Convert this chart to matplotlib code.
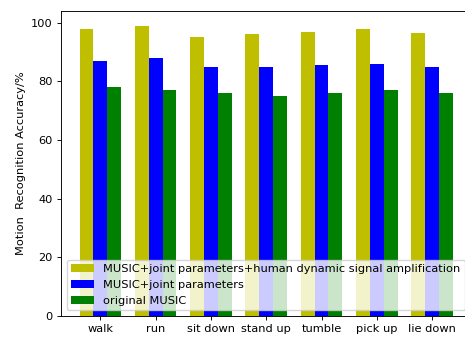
import matplotlib
matplotlib.use('Agg')
import matplotlib.pyplot as plt
import numpy as np

# Recognition accuracy (%) per motion, for the three methods
motions = ['walk', 'run', 'sit down', 'stand up', 'tumble', 'pick up', 'lie down']
acc_amplified = [98, 99, 95, 96, 97, 98, 96.5]
acc_joint = [87, 88, 85, 85, 85.5, 86, 85]
acc_original = [78, 77, 76, 75, 76, 77, 76]

series_labels = ['MUSIC+joint parameters+human dynamic signal amplification',
                 'MUSIC+joint parameters',
                 'original MUSIC']

# everything a bit smaller than the matplotlib defaults
scale = 0.82
plt.rcParams['font.size'] = 10 * scale
plt.rcParams['axes.linewidth'] = 0.8 * scale
plt.rcParams['xtick.major.size'] = 3.5 * scale
plt.rcParams['ytick.major.size'] = 3.5 * scale
plt.rcParams['xtick.major.width'] = 0.8 * scale
plt.rcParams['ytick.major.width'] = 0.8 * scale
plt.rcParams['xtick.major.pad'] = 3.5 * scale
plt.rcParams['ytick.major.pad'] = 3.5 * scale
plt.rcParams['legend.fontsize'] = 10 * scale


def main():
    fig = plt.figure(figsize=(4.65, 3.38), dpi=100)
    # axes run a little past the right edge of the figure
    ax = fig.add_axes([0.131, 0.065, 0.883, 0.902])

    x = np.arange(len(motions))
    width = 0.25

    ax.bar(x - width, acc_amplified, width, color='y', label=series_labels[0])
    ax.bar(x, acc_joint, width, color='b', label=series_labels[1])
    ax.bar(x + width, acc_original, width, color='g', label=series_labels[2])

    ax.set_xticks(x)
    ax.set_xticklabels(motions)
    ax.set_ylabel('Motion  Recognition Accuracy/%')
    ax.legend(loc='lower left')

    plt.savefig('out.png', dpi=100)
    plt.close()


if __name__ == "__main__":
    main()
